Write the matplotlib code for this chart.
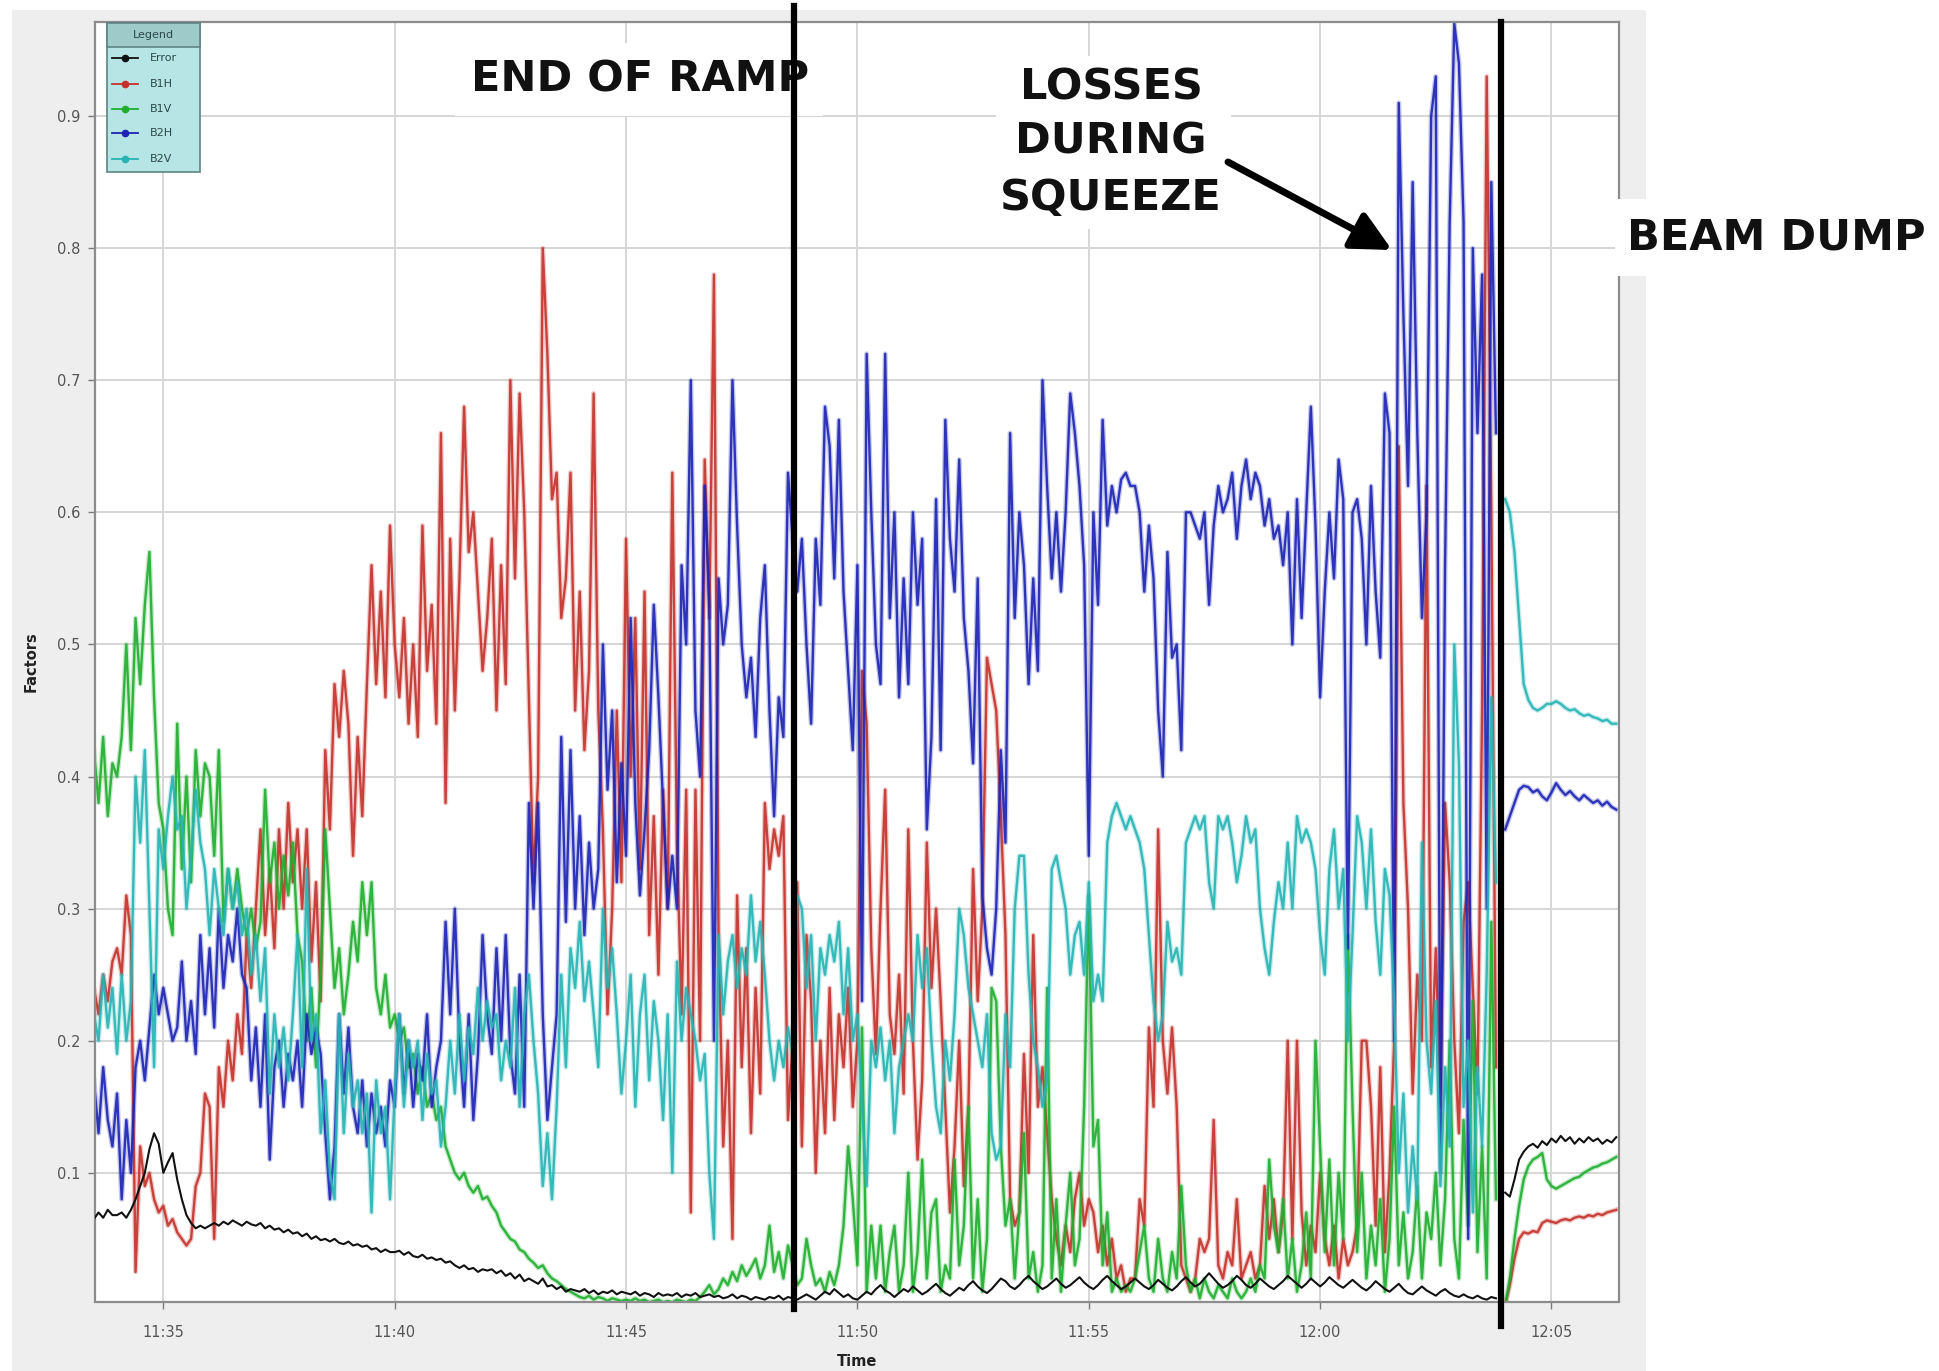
import numpy as np
import matplotlib
matplotlib.use("Agg")
import matplotlib.pyplot as plt
import matplotlib.dates as mdates
from matplotlib.patches import Rectangle, FancyArrowPatch
from matplotlib.lines import Line2D
from datetime import datetime, timedelta

nan = np.nan

# Sampling grid: one value every 0.1 min, starting 11:33.5
T0_MIN = 33.5
STEP_MIN = 0.1

series_names = ["Error", "B1H", "B1V", "B2H", "B2V"]

error = [
    0.065, 0.07, 0.066, 0.072, 0.068,
    0.068, 0.07, 0.066, 0.072, 0.08, 0.09, 0.1, 0.118, 0.13, 0.122,
    0.1, 0.108, 0.115, 0.095, 0.08, 0.068, 0.062, 0.058, 0.06, 0.058,
    0.06, 0.062, 0.06, 0.063, 0.061, 0.064, 0.062, 0.06, 0.063, 0.061,
    0.06, 0.062, 0.058, 0.06, 0.057, 0.058, 0.055, 0.057, 0.054, 0.055,
    0.052, 0.054, 0.05, 0.052, 0.049, 0.05, 0.048, 0.05, 0.047, 0.046,
    0.048, 0.045, 0.046, 0.044, 0.045, 0.042, 0.043, 0.04, 0.042, 0.04,
    0.04, 0.041, 0.038, 0.04, 0.037, 0.036, 0.038, 0.035, 0.036, 0.034,
    0.035, 0.032, 0.033, 0.03, 0.028, 0.03, 0.027, 0.028, 0.025, 0.027,
    0.026, 0.027, 0.024, 0.026, 0.022, 0.024, 0.02, 0.023, 0.018, 0.02,
    0.018, 0.016, 0.02, 0.014, 0.015, 0.012, 0.014, 0.01, 0.012, 0.011,
    0.01, 0.012, 0.009, 0.011, 0.008, 0.01, 0.009, 0.011, 0.008, 0.01,
    0.009, 0.008, 0.01, 0.007, 0.009, 0.008, 0.006, 0.009, 0.007, 0.008,
    0.007, 0.009, 0.006, 0.008, 0.007, 0.009, 0.006, 0.007, 0.008, 0.006,
    0.007, 0.005, 0.006, 0.008, 0.005, 0.007, 0.006, 0.004, 0.006, 0.005,
    0.004, 0.006, 0.005, 0.007, 0.004, 0.006, 0.005, 0.004, 0.006, 0.008,
    0.006, 0.004, 0.007, 0.01, 0.008, 0.012, 0.009, 0.006, 0.008, 0.005,
    0.004, 0.007, 0.01, 0.008, 0.012, 0.015, 0.011, 0.009, 0.006, 0.009,
    0.012, 0.01, 0.014, 0.011, 0.008, 0.01, 0.013, 0.016, 0.012, 0.009,
    0.007, 0.01, 0.013, 0.011, 0.015, 0.018, 0.014, 0.011, 0.009, 0.012,
    0.016, 0.02, 0.018, 0.014, 0.012, 0.015, 0.019, 0.022, 0.018, 0.015,
    0.012, 0.014, 0.017, 0.02, 0.016, 0.013, 0.015, 0.018, 0.021, 0.017,
    0.014, 0.012, 0.015, 0.019, 0.022, 0.018, 0.015, 0.012, 0.014, 0.017,
    0.02, 0.017, 0.014, 0.012, 0.015, 0.019, 0.016, 0.013, 0.011, 0.014,
    0.018, 0.021, 0.017, 0.014, 0.016, 0.02, 0.024, 0.02, 0.016, 0.013,
    0.015, 0.018, 0.022, 0.019, 0.015, 0.013, 0.016, 0.02, 0.017, 0.014,
    0.012, 0.015, 0.018, 0.022, 0.019, 0.016, 0.013, 0.016, 0.02, 0.017,
    0.014, 0.017, 0.021, 0.018, 0.015, 0.013, 0.016, 0.019, 0.016, 0.013,
    0.011, 0.014, 0.018, 0.015, 0.012, 0.01, 0.013, 0.016, 0.012, 0.009,
    0.008, 0.011, 0.014, 0.011, 0.009, 0.007, 0.01, 0.012, 0.009, 0.007,
    0.006, 0.008, 0.006, 0.005, 0.007, 0.005, 0.004, 0.006, 0.005, nan,
    0.085, 0.082, 0.095, 0.11, 0.116, 0.12, 0.122, 0.119, 0.124, 0.121,
    0.126, 0.123, 0.128, 0.124, 0.127, 0.122, 0.126, 0.123, 0.127, 0.124,
    0.126, 0.122, 0.125, 0.123, 0.127,
]

b1h = [
    0.24, 0.22, 0.25, 0.23, 0.26,
    0.27, 0.25, 0.31, 0.28, 0.025, 0.12, 0.09, 0.1, 0.08, 0.07,
    0.075, 0.06, 0.065, 0.055, 0.05, 0.045, 0.05, 0.09, 0.1, 0.16,
    0.15, 0.05, 0.18, 0.15, 0.2, 0.17, 0.22, 0.19, 0.28, 0.24,
    0.3, 0.36, 0.28, 0.33, 0.27, 0.36, 0.3, 0.38, 0.32, 0.36,
    0.3, 0.36, 0.26, 0.32, 0.23, 0.42, 0.36, 0.47, 0.43, 0.48,
    0.44, 0.34, 0.43, 0.37, 0.47, 0.56, 0.47, 0.54, 0.46, 0.59,
    0.5, 0.46, 0.52, 0.44, 0.5, 0.43, 0.59, 0.48, 0.53, 0.44,
    0.66, 0.38, 0.58, 0.45, 0.55, 0.68, 0.57, 0.6, 0.54, 0.48,
    0.52, 0.58, 0.45, 0.56, 0.47, 0.7, 0.55, 0.69, 0.6, 0.46,
    0.32, 0.4, 0.8, 0.72, 0.61, 0.63, 0.52, 0.55, 0.63, 0.45,
    0.54, 0.42, 0.48, 0.69, 0.45, 0.36, 0.22, 0.3, 0.45, 0.32,
    0.58, 0.4, 0.52, 0.33, 0.54, 0.28, 0.37, 0.25, 0.39, 0.3,
    0.63, 0.35, 0.22, 0.39, 0.07, 0.39, 0.2, 0.64, 0.52, 0.78,
    0.28, 0.12, 0.2, 0.05, 0.31, 0.18, 0.27, 0.13, 0.24, 0.16,
    0.38, 0.33, 0.36, 0.34, 0.37, 0.14, 0.2, 0.32, 0.12, 0.28,
    0.23, 0.1, 0.2, 0.13, 0.24, 0.14, 0.22, 0.18, 0.24, 0.15,
    0.2, 0.48, 0.44, 0.27, 0.19, 0.3, 0.39, 0.22, 0.19, 0.25,
    0.16, 0.36, 0.2, 0.11, 0.17, 0.35, 0.24, 0.3, 0.23, 0.15,
    0.07, 0.12, 0.2, 0.09, 0.15, 0.33, 0.23, 0.3, 0.49, 0.47,
    0.45, 0.37, 0.28, 0.08, 0.06, 0.07, 0.19, 0.1, 0.28, 0.15,
    0.18, 0.13, 0.08, 0.05, 0.03, 0.06, 0.04, 0.08, 0.1, 0.06,
    0.08, 0.07, 0.04, 0.06, 0.03, 0.05, 0.02, 0.03, 0.01, 0.02,
    0.02, 0.08, 0.06, 0.21, 0.15, 0.36, 0.2, 0.16, 0.21, 0.15,
    0.03, 0.02, 0.01, 0.02, 0.05, 0.04, 0.05, 0.14, 0.03, 0.02,
    0.04, 0.03, 0.08, 0.02, 0.03, 0.04, 0.02, 0.03, 0.09, 0.05,
    0.08, 0.04, 0.07, 0.2, 0.05, 0.2, 0.07, 0.03, 0.06, 0.04,
    0.1, 0.05, 0.03, 0.06, 0.02, 0.05, 0.03, 0.04, 0.06, 0.2,
    0.2, 0.15, 0.06, 0.18, 0.04, 0.1, 0.2, 0.65, 0.38, 0.3,
    0.16, 0.25, 0.2, 0.62, 0.18, 0.27, 0.15, 0.38, 0.32, 0.2,
    0.13, 0.29, 0.32, 0.24, 0.16, 0.45, 0.93, 0.6, 0.18, nan,
    0.0, 0.015, 0.035, 0.05, 0.055, 0.054, 0.056, 0.055, 0.062, 0.064,
    0.063, 0.062, 0.064, 0.065, 0.064, 0.066, 0.067, 0.066, 0.068, 0.067,
    0.069, 0.068, 0.07, 0.071, 0.072,
]

b1v = [
    0.42, 0.38, 0.43, 0.37, 0.41,
    0.4, 0.43, 0.5, 0.42, 0.52, 0.47, 0.53, 0.57, 0.46, 0.38,
    0.36, 0.3, 0.28, 0.44, 0.33, 0.4, 0.32, 0.42, 0.37, 0.41,
    0.4, 0.34, 0.42, 0.29, 0.33, 0.3, 0.33, 0.3, 0.28, 0.3,
    0.27, 0.29, 0.39, 0.32, 0.35, 0.3, 0.34, 0.31, 0.35, 0.28,
    0.26, 0.2, 0.24, 0.18, 0.25, 0.36, 0.3, 0.24, 0.27, 0.22,
    0.25, 0.29, 0.26, 0.32, 0.28, 0.32, 0.24, 0.22, 0.25, 0.21,
    0.22, 0.2, 0.21, 0.18, 0.19, 0.16, 0.18, 0.15, 0.16, 0.14,
    0.15, 0.12, 0.11, 0.1, 0.095, 0.1, 0.09, 0.085, 0.09, 0.08,
    0.082, 0.075, 0.07, 0.06, 0.055, 0.05, 0.048, 0.042, 0.04, 0.035,
    0.032, 0.028, 0.03, 0.024, 0.02, 0.018, 0.015, 0.012, 0.01, 0.008,
    0.006, 0.005, 0.007, 0.004, 0.006, 0.005, 0.003, 0.005, 0.004, 0.003,
    0.004, 0.003, 0.005, 0.003, 0.004, 0.002, 0.003, 0.004, 0.002, 0.003,
    0.002, 0.004, 0.003, 0.002, 0.004, 0.003, 0.006, 0.01, 0.015, 0.008,
    0.012, 0.02, 0.015, 0.025, 0.018, 0.03, 0.022, 0.028, 0.035, 0.02,
    0.03, 0.06, 0.025, 0.04, 0.02, 0.045, 0.03, 0.015, 0.02, 0.05,
    0.03, 0.015, 0.02, 0.01, 0.025, 0.015, 0.03, 0.06, 0.12, 0.08,
    0.03, 0.21, 0.01, 0.06, 0.02, 0.06, 0.01, 0.04, 0.06, 0.01,
    0.03, 0.1, 0.01, 0.04, 0.11, 0.02, 0.07, 0.08, 0.01, 0.03,
    0.02, 0.11, 0.03, 0.06, 0.15, 0.02, 0.08, 0.01, 0.05, 0.24,
    0.23, 0.12, 0.06, 0.08, 0.02, 0.07, 0.13, 0.02, 0.04, 0.01,
    0.03, 0.24, 0.02, 0.08, 0.01, 0.06, 0.1, 0.03, 0.05, 0.15,
    0.31, 0.12, 0.14, 0.03, 0.07, 0.01, 0.02, 0.01, 0.015, 0.01,
    0.02, 0.04, 0.06, 0.02, 0.01, 0.05, 0.02, 0.01, 0.04, 0.02,
    0.09, 0.03, 0.01, 0.02, 0.005, 0.02, 0.01, 0.005, 0.015, 0.01,
    0.005, 0.02, 0.01, 0.005, 0.01, 0.02, 0.01, 0.03, 0.02, 0.11,
    0.06, 0.04, 0.08, 0.02, 0.05, 0.01, 0.03, 0.07, 0.02, 0.2,
    0.12, 0.04, 0.11, 0.03, 0.1, 0.05, 0.28, 0.15, 0.04, 0.1,
    0.02, 0.06, 0.03, 0.08, 0.01, 0.05, 0.15, 0.03, 0.07, 0.02,
    0.04, 0.09, 0.02, 0.07, 0.05, 0.1, 0.03, 0.08, 0.2, 0.05,
    0.02, 0.14, 0.06, 0.23, 0.04, 0.12, 0.02, 0.29, 0.08, nan,
    0.0, 0.02, 0.05, 0.075, 0.095, 0.105, 0.11, 0.112, 0.115, 0.095,
    0.09, 0.088, 0.09, 0.092, 0.094, 0.096, 0.097, 0.1, 0.102, 0.104,
    0.105, 0.107, 0.108, 0.11, 0.112,
]

b2h = [
    0.17, 0.13, 0.18, 0.14, 0.12,
    0.16, 0.08, 0.14, 0.1, 0.18, 0.2, 0.17, 0.21, 0.25, 0.22,
    0.24, 0.22, 0.2, 0.21, 0.26, 0.2, 0.23, 0.19, 0.28, 0.22,
    0.27, 0.21, 0.3, 0.24, 0.28, 0.26, 0.3, 0.25, 0.24, 0.17,
    0.21, 0.15, 0.22, 0.11, 0.18, 0.2, 0.15, 0.19, 0.17, 0.2,
    0.15, 0.22, 0.19, 0.21, 0.19, 0.13, 0.08, 0.12, 0.22, 0.16,
    0.21, 0.15, 0.13, 0.17, 0.12, 0.16, 0.13, 0.15, 0.12, 0.17,
    0.15, 0.22, 0.16, 0.2, 0.15, 0.19, 0.17, 0.22, 0.15, 0.18,
    0.2, 0.29, 0.22, 0.3, 0.2, 0.15, 0.22, 0.14, 0.19, 0.28,
    0.22, 0.19, 0.27, 0.2, 0.28, 0.19, 0.16, 0.25, 0.15, 0.38,
    0.3, 0.38, 0.22, 0.14, 0.18, 0.22, 0.43, 0.29, 0.42, 0.3,
    0.37, 0.28, 0.35, 0.3, 0.33, 0.5, 0.39, 0.45, 0.32, 0.41,
    0.34, 0.52, 0.38, 0.31, 0.36, 0.42, 0.53, 0.46, 0.38, 0.3,
    0.34, 0.3, 0.56, 0.5, 0.7, 0.45, 0.4, 0.62, 0.53, 0.2,
    0.55, 0.5, 0.53, 0.7, 0.59, 0.5, 0.46, 0.49, 0.43, 0.52,
    0.56, 0.45, 0.37, 0.46, 0.43, 0.63, 0.58, 0.54, 0.58, 0.5,
    0.44, 0.58, 0.53, 0.68, 0.65, 0.55, 0.67, 0.54, 0.48, 0.42,
    0.56, 0.23, 0.72, 0.6, 0.5, 0.47, 0.72, 0.52, 0.6, 0.46,
    0.55, 0.47, 0.6, 0.53, 0.58, 0.36, 0.43, 0.61, 0.42, 0.67,
    0.58, 0.54, 0.64, 0.52, 0.48, 0.41, 0.55, 0.31, 0.27, 0.25,
    0.3, 0.42, 0.35, 0.66, 0.52, 0.6, 0.56, 0.47, 0.55, 0.48,
    0.7, 0.62, 0.55, 0.6, 0.54, 0.6, 0.69, 0.66, 0.62, 0.56,
    0.34, 0.6, 0.53, 0.67, 0.59, 0.62, 0.6, 0.625, 0.63, 0.62,
    0.62, 0.6, 0.54, 0.59, 0.55, 0.45, 0.4, 0.57, 0.49, 0.5,
    0.42, 0.6, 0.6, 0.59, 0.58, 0.6, 0.53, 0.59, 0.62, 0.6,
    0.61, 0.63, 0.58, 0.62, 0.64, 0.61, 0.63, 0.62, 0.59, 0.61,
    0.58, 0.59, 0.56, 0.6, 0.5, 0.61, 0.52, 0.6, 0.68, 0.59,
    0.46, 0.54, 0.6, 0.55, 0.64, 0.61, 0.27, 0.6, 0.61, 0.58,
    0.5, 0.62, 0.54, 0.49, 0.69, 0.66, 0.2, 0.91, 0.75, 0.62,
    0.85, 0.66, 0.52, 0.6, 0.9, 0.93, 0.1, 0.56, 0.82, 0.97,
    0.94, 0.82, 0.05, 0.8, 0.66, 0.78, 0.3, 0.85, 0.66, nan,
    0.36, 0.37, 0.38, 0.39, 0.393, 0.392, 0.388, 0.39, 0.385, 0.382,
    0.388, 0.395, 0.39, 0.386, 0.389, 0.385, 0.382, 0.386, 0.383, 0.38,
    0.382, 0.378, 0.381, 0.377, 0.375,
]

b2v = [
    0.22, 0.2, 0.25, 0.21, 0.24,
    0.19, 0.25, 0.2, 0.23, 0.4, 0.35, 0.42, 0.3, 0.18, 0.36,
    0.33, 0.37, 0.4, 0.36, 0.37, 0.3, 0.34, 0.39, 0.35, 0.33,
    0.28, 0.33, 0.3, 0.28, 0.33, 0.3, 0.32, 0.28, 0.3, 0.25,
    0.28, 0.23, 0.27, 0.16, 0.22, 0.18, 0.21, 0.17, 0.22, 0.28,
    0.18, 0.33, 0.2, 0.22, 0.13, 0.17, 0.1, 0.08, 0.22, 0.13,
    0.19, 0.15, 0.17, 0.13, 0.16, 0.07, 0.17, 0.13, 0.15, 0.08,
    0.16, 0.22, 0.15, 0.2, 0.18, 0.2, 0.14, 0.19, 0.16, 0.17,
    0.12, 0.15, 0.2, 0.16, 0.22, 0.17, 0.21, 0.19, 0.24, 0.2,
    0.23, 0.21, 0.22, 0.17, 0.2, 0.18, 0.24, 0.15, 0.22, 0.25,
    0.2, 0.16, 0.09, 0.13, 0.08, 0.15, 0.25, 0.18, 0.27, 0.24,
    0.29, 0.23, 0.26, 0.22, 0.18, 0.3, 0.24, 0.27, 0.22, 0.16,
    0.2, 0.25, 0.15, 0.22, 0.25, 0.17, 0.23, 0.2, 0.14, 0.22,
    0.1, 0.26, 0.2, 0.24, 0.22, 0.2, 0.17, 0.19, 0.1, 0.05,
    0.28, 0.22, 0.26, 0.28, 0.24, 0.27, 0.25, 0.31, 0.26, 0.29,
    0.25, 0.2, 0.17, 0.2, 0.18, 0.21, 0.19, 0.31, 0.3, 0.24,
    0.28, 0.2, 0.27, 0.25, 0.28, 0.26, 0.29, 0.22, 0.27, 0.2,
    0.22, 0.15, 0.09, 0.2, 0.18, 0.21, 0.17, 0.2, 0.13, 0.18,
    0.2, 0.22, 0.2, 0.28, 0.24, 0.27, 0.2, 0.15, 0.13, 0.2,
    0.17, 0.22, 0.3, 0.28, 0.24, 0.22, 0.2, 0.18, 0.22, 0.13,
    0.11, 0.12, 0.22, 0.18, 0.3, 0.34, 0.34, 0.25, 0.2, 0.18,
    0.15, 0.17, 0.33, 0.34, 0.32, 0.3, 0.25, 0.28, 0.29, 0.25,
    0.32, 0.23, 0.25, 0.23, 0.35, 0.37, 0.38, 0.37, 0.36, 0.37,
    0.36, 0.35, 0.33, 0.28, 0.23, 0.2, 0.22, 0.29, 0.26, 0.27,
    0.25, 0.35, 0.36, 0.37, 0.36, 0.37, 0.32, 0.3, 0.37, 0.36,
    0.37, 0.35, 0.32, 0.34, 0.37, 0.35, 0.36, 0.3, 0.27, 0.25,
    0.29, 0.32, 0.3, 0.35, 0.3, 0.37, 0.35, 0.36, 0.35, 0.33,
    0.28, 0.25, 0.33, 0.36, 0.3, 0.33, 0.2, 0.28, 0.37, 0.35,
    0.3, 0.36, 0.29, 0.25, 0.33, 0.31, 0.23, 0.1, 0.16, 0.07,
    0.12, 0.08, 0.35, 0.2, 0.16, 0.23, 0.09, 0.18, 0.12, 0.5,
    0.41, 0.15, 0.2, 0.07, 0.18, 0.12, 0.25, 0.46, 0.32, nan,
    0.61, 0.6, 0.57, 0.52, 0.47, 0.458, 0.452, 0.45, 0.452, 0.455,
    0.455, 0.457, 0.455, 0.452, 0.45, 0.451, 0.448, 0.446, 0.447, 0.445,
    0.444, 0.442, 0.443, 0.44, 0.44,
]

colors = {
    "Error": "#111111",
    "B1H": "#c4322c",
    "B1V": "#1fae2e",
    "B2H": "#1c24b4",
    "B2V": "#26b4b4",
}

values = {"Error": error, "B1H": b1h, "B1V": b1v, "B2H": b2h, "B2V": b2v}
n = len(error)
for k, v in values.items():
    assert len(v) == n, (k, len(v))

base = datetime(2011, 1, 1, 11, 0)
minutes = T0_MIN + STEP_MIN * np.arange(n)
times = np.array([base + timedelta(minutes=float(m)) for m in minutes])

RAMP_END_MIN = 48.64
BEAM_DUMP_MIN = 63.9

W, H = 1940, 1371
fig = plt.figure(figsize=(W / 100, H / 100), dpi=100, facecolor="white")


def fx(x):
    return x / W


def fy(y):
    return 1 - y / H


# grey application panel behind the chart
fig.patches.append(Rectangle((fx(12), 0), fx(1646) - fx(12), fy(10),
                             transform=fig.transFigure, facecolor="#eeeeee",
                             edgecolor="none", zorder=-10))

ax = fig.add_axes([fx(95.3), fy(1301.5), fx(1619.5) - fx(95.3), fy(22.3) - fy(1301.5)])
ax.set_facecolor("white")

# data lines: soft halo plus solid core in the series colour
draw_order = ["B1H", "B1V", "B2H", "B2V", "Error"]
for i, name in enumerate(draw_order):
    v = np.array(values[name], dtype=float)
    c = colors[name]
    if name == "Error":
        ax.plot(times, v, color=c, lw=1.5, zorder=3 + i * 0.1)
    else:
        ax.plot(times, v, color=c, lw=3.6, alpha=0.25, zorder=2 + i * 0.1)
        ax.plot(times, v, color=c, lw=1.7, alpha=0.9, zorder=2.05 + i * 0.1)

ax.set_xlim(base + timedelta(minutes=33.53), base + timedelta(minutes=66.47))
ax.set_ylim(0.0026, 0.971)
ax.set_yticks([0.1, 0.2, 0.3, 0.4, 0.5, 0.6, 0.7, 0.8, 0.9])
ax.set_yticklabels(["0.1", "0.2", "0.3", "0.4", "0.5", "0.6", "0.7", "0.8", "0.9"])
ax.xaxis.set_major_locator(mdates.MinuteLocator(byminute=range(0, 60, 5)))
ax.xaxis.set_major_formatter(mdates.DateFormatter("%H:%M"))

ax.grid(True, color="#d6d6d6", lw=1.4, zorder=0)
ax.set_axisbelow(True)
for sp in ax.spines.values():
    sp.set_color("#8c8c8c")
    sp.set_linewidth(1.6)
ax.tick_params(axis="both", direction="out", length=5, width=1, color="#7a7a7a",
               labelcolor="#555555", labelsize=10.5)
ax.tick_params(axis="x", pad=12)
ax.tick_params(axis="y", pad=6)

fig.text(fx(31), fy(662), "Factors", rotation=90, ha="center", va="center",
         fontsize=10.5, fontweight="bold", color="#222222")
fig.text(fx(857), fy(1362), "Time", ha="center", va="center",
         fontsize=10.5, fontweight="bold", color="#222222")

# legend box
leg_left, leg_right, leg_top, leg_bottom, head_bottom = 106.7, 200, 23.3, 171.7, 46.7
ax.add_patch(Rectangle((fx(leg_left), fy(leg_bottom)), fx(leg_right) - fx(leg_left),
                       fy(leg_top) - fy(leg_bottom), transform=fig.transFigure,
                       facecolor="#b7e4e4", edgecolor="#5f8484", lw=1.2,
                       clip_on=False, zorder=20))
ax.add_patch(Rectangle((fx(leg_left), fy(head_bottom)), fx(leg_right) - fx(leg_left),
                       fy(leg_top) - fy(head_bottom), transform=fig.transFigure,
                       facecolor="#9fcaca", edgecolor="#5f8484", lw=1.2,
                       clip_on=False, zorder=21))
ax.text(fx((leg_left + leg_right) / 2), fy(35), "Legend", transform=fig.transFigure,
        ha="center", va="center", fontsize=8, color="#2a4a4a", zorder=22)
entry_y = [58.3, 84.3, 109.3, 133.3, 159]
for name, yy in zip(series_names, entry_y):
    ax.add_line(Line2D([fx(111.7), fx(138.3)], [fy(yy), fy(yy)], transform=fig.transFigure,
                       color=colors[name], lw=1.3, clip_on=False, zorder=22))
    ax.add_line(Line2D([fx(125)], [fy(yy)], transform=fig.transFigure, marker="o",
                       markersize=4.5, color=colors[name], clip_on=False, zorder=23))
    ax.text(fx(150), fy(yy), name, transform=fig.transFigure, ha="left", va="center",
            fontsize=8, color="#2a4a4a", zorder=23)

# annotation boxes and labels
note_font = dict(fontsize=31, fontweight="bold", color="#111111", family="DejaVu Sans")
for (x0, y0, x1, y1) in [(455, 43, 823, 116), (996, 56, 1231, 229), (1615, 199, 1940, 276)]:
    ax.add_patch(Rectangle((fx(x0), fy(y1)), fx(x1) - fx(x0), fy(y0) - fy(y1),
                           transform=fig.transFigure, facecolor="white",
                           edgecolor="none", clip_on=False, zorder=15))

ax.text(fx(640), fy(79), "END OF RAMP", transform=fig.transFigure, ha="center",
        va="center", zorder=16, **note_font)
for line_txt, yy in zip(["LOSSES", "DURING", "SQUEEZE"], [87, 142, 198]):
    ax.text(fx(1111), fy(yy), line_txt, transform=fig.transFigure, ha="center",
            va="center", zorder=16, **note_font)
ax.text(fx(1776), fy(238), "BEAM DUMP", transform=fig.transFigure, ha="center",
        va="center", zorder=16, **note_font)

arrow = FancyArrowPatch((fx(1228), fy(162)), (fx(1392), fy(250)),
                        transform=fig.transFigure, arrowstyle="-|>",
                        mutation_scale=60, lw=5, color="black",
                        shrinkA=0, shrinkB=0, clip_on=False, zorder=17)
ax.add_patch(arrow)

# event markers
ax.axvline(base + timedelta(minutes=RAMP_END_MIN), ymin=-0.006, ymax=1.0125,
           color="black", lw=4.5, clip_on=False, zorder=18)
ax.axvline(base + timedelta(minutes=BEAM_DUMP_MIN), ymin=-0.0191, ymax=1.0,
           color="black", lw=4.5, clip_on=False, zorder=18)

fig.savefig("out.png", dpi=100, facecolor="white")
